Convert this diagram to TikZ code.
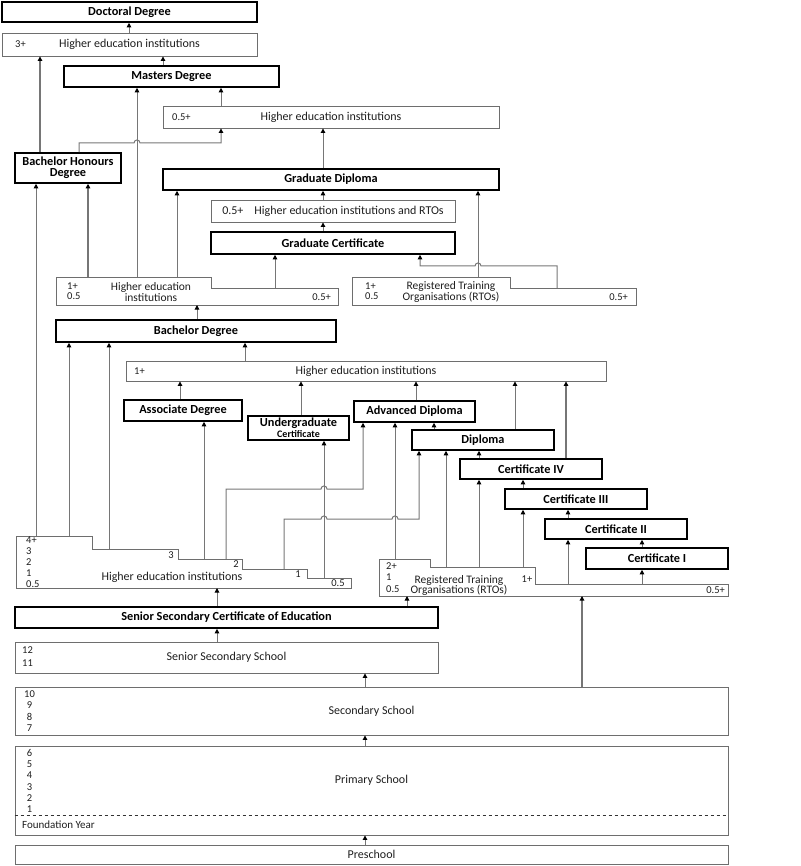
\documentclass[tikz,border=0pt]{standalone}
\usepackage{fontspec}
\setmainfont{Carlito}
\usepackage{tikz}
\usetikzlibrary{arrows.meta,positioning}
\usepackage{xcolor}
\definecolor{qfgrey}{RGB}{118,118,118}
\definecolor{qfbox}{RGB}{110,110,110}
\definecolor{qftext}{RGB}{30,30,30}
\tikzstyle{arrowline} = [draw=qfgrey, line width=1pt, -{Triangle[color=black,length=4.5pt,width=4.5pt]}]
\tikzstyle{thickarrow} = [arrowline, line width=2pt]
\tikzstyle{outline} = [draw=qfbox, line width=0.9pt]
\tikzstyle{qual} = [rectangle, draw=black, line width=1.6pt, fill=white, inner sep=0pt, align=center, font=\bfseries\fontsize{12.3}{11}\selectfont]
\tikzstyle{instname} = [inner sep=0pt, align=center, text=qftext, font=\fontsize{12}{11}\selectfont]
\tikzstyle{inst} = [rectangle, outline, instname]
\tikzstyle{years} = [inner sep=0pt, text=qftext, font=\fontsize{10.5}{11}\selectfont]

\begin{document}
\begin{tikzpicture}[x=1pt, y=-1pt]
\useasboundingbox (0,0) rectangle (800,866);

% Doctoral and masters level
\node (doctoral) [qual, minimum width=255pt, minimum height=20pt] at (129.5,12) {Doctoral Degree};
\node (hei3) [inst, minimum width=255pt, minimum height=23pt] at (129.5,44.5) {Higher education institutions};
\node (hei3yr) [years, anchor=west] at (15,44.5) {3+};
\node (masters) [qual, minimum width=215pt, minimum height=21pt] at (171.5,76.5) {Masters Degree};
\node (heims) [inst, minimum width=336pt, minimum height=22pt] at (331,117) {Higher education institutions};
\node (heimsyr) [years, anchor=west] at (172,117) {0.5+};

% Honours and graduate level
\node (honours) [qual, minimum width=106pt, minimum height=30pt] at (68,168) {Bachelor Honours\\Degree};
\node (graddip) [qual, minimum width=336pt, minimum height=21pt] at (331,179.5) {Graduate Diploma};
\node (heigd) [inst, minimum width=244pt, minimum height=22pt] at (333,211) {0.5+\hspace{11pt}Higher education institutions and RTOs};
\node (gradcert) [qual, minimum width=244pt, minimum height=22pt] at (333,243) {Graduate Certificate};

% Stepped providers after the bachelor degree
\draw[outline] (56,277) -- (211,277) -- (211,288) -- (338,288) -- (338,305) -- (56,305) -- cycle;
\coordinate (hbtop) at (56,277);
\coordinate (hbmid) at (211,288);
\coordinate (hbbot) at (56,305);
\node (hbyr) [years, anchor=west, align=left, font=\fontsize{10.5}{10}\selectfont] at (67,291) {1+\\0.5};
\node (hbname) [instname, font=\fontsize{11.5}{10.5}\selectfont] at (151,292) {Higher education\\institutions};
\node (hbmin) [years, anchor=east] at (331,297) {0.5+};

\draw[outline] (352,277) -- (510,277) -- (510,288) -- (636,288) -- (636,305) -- (352,305) -- cycle;
\coordinate (rgtop) at (352,277);
\coordinate (rgmid) at (510,288);
\node (rgyr) [years, anchor=west, align=left, font=\fontsize{10.5}{10}\selectfont] at (365,291) {1+\\0.5};
\node (rgname) [instname, font=\fontsize{11.5}{10.5}\selectfont] at (451,292) {Registered Training\\Organisations (RTOs)};
\node (rgmin) [years, anchor=east] at (628,297) {0.5+};

% Bachelor and sub-degree level
\node (bachelor) [qual, minimum width=280pt, minimum height=22pt] at (196,331) {Bachelor Degree};
\node (heiad) [inst, minimum width=480pt, minimum height=20pt] at (366,371) {Higher education institutions};
\node (heiadyr) [years, anchor=west] at (134,371) {1+};
\node (assoc) [qual, minimum width=118pt, minimum height=21pt] at (183,410.5) {Associate Degree};
\node (ugcert) [qual, minimum width=101pt, minimum height=24pt] at (298.5,428) {Undergraduate\\{\fontsize{10}{10}\selectfont Certificate}};
\node (advdip) [qual, minimum width=121pt, minimum height=21pt] at (414.5,411.5) {Advanced Diploma};
\node (diploma) [qual, minimum width=142pt, minimum height=20pt] at (483,440) {Diploma};
\node (cert4) [qual, minimum width=142pt, minimum height=20pt] at (531,469) {Certificate IV};
\node (cert3) [qual, minimum width=142pt, minimum height=20pt] at (576,499) {Certificate III};
\node (cert2) [qual, minimum width=142pt, minimum height=20pt] at (616,529) {Certificate II};
\node (cert1) [qual, minimum width=142pt, minimum height=21pt] at (657,558.5) {Certificate I};

% Stepped providers after school
\draw[outline] (16,536) -- (92,536) -- (92,549) -- (178,549) -- (178,559) -- (242,559) -- (242,569) -- (307,569) -- (307,578) -- (351,578) -- (351,588) -- (16,588) -- cycle;
\coordinate (hs4) at (16,536);
\coordinate (hs3) at (92,549);
\coordinate (hs2) at (178,559);
\coordinate (hs1) at (242,569);
\coordinate (hs0) at (307,578);
\coordinate (hsbot) at (16,588);
\node (hsyr) [years, anchor=west, align=left] at (26,562) {4+\\3\\2\\1\\0.5};
\node (hsname) [instname] at (172,577) {Higher education institutions};
\node (hs3yr) [years] at (171,555) {3};
\node (hs2yr) [years] at (236,564) {2};
\node (hs1yr) [years] at (298,574) {1};
\node (hs0yr) [years] at (338,583) {0.5};

\draw[outline] (379,559) -- (430,559) -- (430,567) -- (535,567) -- (535,584) -- (728,584) -- (728,596) -- (379,596) -- cycle;
\coordinate (rs2) at (379,559);
\coordinate (rs1) at (430,567);
\coordinate (rs0) at (535,584);
\coordinate (rsbot) at (379,596);
\node (rsyr) [years, anchor=west, align=left, font=\fontsize{10.5}{11.5}\selectfont] at (386,577.5) {2+\\1\\0.5};
\node (rsname) [instname, font=\fontsize{11.5}{10.5}\selectfont] at (459,585.5) {Registered Training\\Organisations (RTOs)};
\node (rs1yr) [years] at (527,579) {1+};
\node (rs0yr) [years, anchor=east] at (725,590) {0.5+};

% Schools
\node (ssce) [qual, minimum width=423pt, minimum height=21pt] at (226.5,617.5) {Senior Secondary Certificate of Education};
\node (senior) [inst, minimum width=423pt, minimum height=31pt] at (226.5,657.5) {Senior Secondary School};
\node (senioryr) [years, anchor=west, align=left, font=\fontsize{10.5}{13}\selectfont] at (22,656.5) {12\\11};
\node (secondary) [inst, minimum width=713pt, minimum height=48pt] at (371.5,711) {Secondary School};
\node (secondaryyr) [years, align=center, font=\fontsize{10.5}{11.5}\selectfont] at (29.5,711) {10\\9\\8\\7};
\node (primary) [inst, minimum width=713pt, minimum height=89pt] at (371.5,790.5) {};
\node (primaryname) [instname] at (371.5,780) {Primary School};
\node (primaryyr) [years, align=center, font=\fontsize{10.5}{11.2}\selectfont] at (29.5,781) {6\\5\\4\\3\\2\\1};
\node (foundation) [instname, anchor=west, font=\fontsize{11}{11}\selectfont] at (22,825) {Foundation Year};
\draw[dashed, line width=1pt, black!80] (primary.west |- 0,815) -- (primary.east |- 0,815);
\node (preschool) [inst, minimum width=713pt, minimum height=19pt] at (371.5,854.5) {Preschool};

% Doctoral and masters links
\draw[arrowline] (hei3.north -| 129,0) -- (doctoral.south -| 129,0);
\draw[arrowline] (masters.north -| 163,0) -- (hei3.south -| 163,0);
\draw[thickarrow] (honours.north -| 40,0) -- (hei3.south -| 40,0);
\draw[arrowline] (hbtop -| 137,0) -- (masters.south -| 137,0);
\draw[arrowline] (heims.north -| 221,0) -- (masters.south -| 221,0);
\draw[arrowline] (honours.north -| 79,0) |- (134,143) .. controls (134,139) and (140,139) .. (140,143) -| (heims.south -| 221,0);

% Graduate links
\draw[arrowline] (graddip.north -| 323,0) -- (heims.south -| 323,0);
\draw[arrowline] (hbtop -| 177,0) -- (graddip.south -| 177,0);
\draw[arrowline] (heigd.north -| 323,0) -- (graddip.south -| 323,0);
\draw[arrowline] (rgtop -| 478,0) -- (graddip.south -| 478,0);
\draw[arrowline] (gradcert.north -| 323,0) -- (heigd.south -| 323,0);
\draw[arrowline] (hbmid -| 275,0) -- (gradcert.south -| 275,0);
\draw[arrowline] (rgmid -| 557,0) |- (481,266) .. controls (481,262) and (475,262) .. (475,266) -| (gradcert.south -| 420,0);

% Bachelor links
\draw[arrowline] (hs4 -| 36,0) -- (honours.south -| 36,0);
\draw[thickarrow] (hbtop -| 88,0) -- (honours.south -| 88,0);
\draw[arrowline] (bachelor.north -| 197,0) -- (hbbot -| 197,0);
\draw[arrowline] (hs4 -| 69,0) -- (bachelor.south -| 69,0);
\draw[arrowline] (hs3 -| 109,0) -- (bachelor.south -| 109,0);
\draw[arrowline] (heiad.north -| 245,0) -- (bachelor.south -| 245,0);

% Sub-degree links
\draw[arrowline] (assoc.north -| 180,0) -- (heiad.south -| 180,0);
\draw[arrowline] (ugcert.north -| 301,0) -- (heiad.south -| 301,0);
\draw[arrowline] (advdip.north -| 416,0) -- (heiad.south -| 416,0);
\draw[arrowline] (diploma.north -| 515,0) -- (heiad.south -| 515,0);
\draw[thickarrow] (cert4.north -| 566,0) -- (heiad.south -| 566,0);
\draw[arrowline] (hs2 -| 204,0) -- (assoc.south -| 204,0);
\draw[arrowline] (hs0 -| 324,0) -- (ugcert.south -| 324,0);
\draw[arrowline] (hs2 -| 226,0) |- (321,489) .. controls (321,485) and (327,485) .. (327,489) -| (advdip.south -| 363,0);
\draw[arrowline] (hs1 -| 284,0) |- (321,519) .. controls (321,515) and (327,515) .. (327,519) -- (392,519) .. controls (392,515) and (398,515) .. (398,519) -| (diploma.south -| 419,0);
\draw[arrowline] (rs2 -| 395,0) -- (advdip.south -| 395,0);
\draw[arrowline] (diploma.north -| 434,0) -- (advdip.south -| 434,0);
\draw[arrowline] (rs1 -| 446,0) -- (diploma.south -| 446,0);
\draw[arrowline] (cert4.north -| 479,0) -- (diploma.south -| 479,0);
\draw[arrowline] (rs1 -| 479,0) -- (cert4.south -| 479,0);
\draw[arrowline] (cert3.north -| 523,0) -- (cert4.south -| 523,0);
\draw[arrowline] (rs1 -| 523,0) -- (cert3.south -| 523,0);
\draw[arrowline] (cert2.north -| 568,0) -- (cert3.south -| 568,0);
\draw[arrowline] (rs0 -| 568,0) -- (cert2.south -| 568,0);
\draw[arrowline] (cert1.north -| 642,0) -- (cert2.south -| 642,0);
\draw[arrowline] (rs0 -| 642,0) -- (cert1.south -| 642,0);

% School links
\draw[arrowline] (ssce.north -| 217,0) -- (hsbot -| 217,0);
\draw[arrowline] (ssce.north -| 407,0) -- (rsbot -| 407,0);
\draw[thickarrow] (secondary.north -| 582,0) -- (rsbot -| 582,0);
\draw[arrowline] (senior.north -| 217,0) -- (ssce.south -| 217,0);
\draw[arrowline] (secondary.north -| 365,0) -- (senior.south -| 365,0);
\draw[arrowline] (primary.north -| 365,0) -- (secondary.south -| 365,0);
\draw[arrowline] (preschool.north -| 365,0) -- (primary.south -| 365,0);
\end{tikzpicture}
\end{document}
